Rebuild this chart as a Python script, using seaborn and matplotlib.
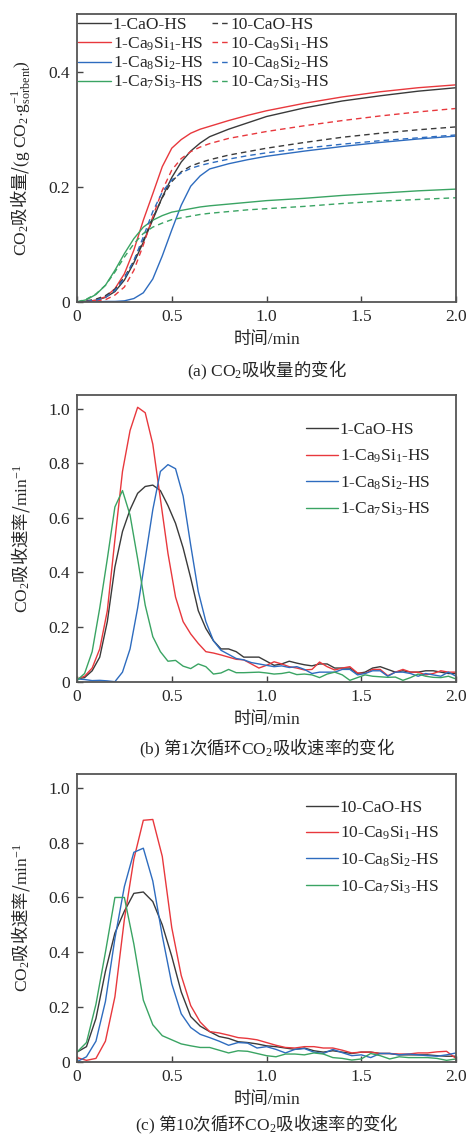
import numpy as np
import pandas as pd
import matplotlib
matplotlib.use("Agg")
import matplotlib.pyplot as plt
from matplotlib.ticker import FuncFormatter, FixedLocator
import seaborn as sns

# ---------------- data ----------------
# (a) cumulative CO2 uptake, g CO2 per g sorbent
time_uptake = [0.00, 0.05, 0.10, 0.15, 0.20, 0.25, 0.30, 0.35, 0.40, 0.45, 0.50,
               0.55, 0.60, 0.65, 0.70, 0.80, 0.90, 1.00, 1.20, 1.40, 1.60, 1.80, 2.00]
up_1_cao = [0, 0.001, 0.003, 0.008, 0.018, 0.038, 0.068, 0.104, 0.143, 0.182, 0.216,
            0.243, 0.262, 0.276, 0.287, 0.300, 0.311, 0.322, 0.337, 0.349, 0.358, 0.366, 0.372]
up_1_ca9 = [0, 0.001, 0.003, 0.009, 0.023, 0.049, 0.090, 0.142, 0.188, 0.235, 0.267,
            0.282, 0.293, 0.300, 0.305, 0.315, 0.324, 0.332, 0.345, 0.356, 0.365, 0.372, 0.377]
up_1_ca8 = [0, 0, 0, 0.001, 0.001, 0.002, 0.006, 0.016, 0.040, 0.080, 0.125,
            0.168, 0.201, 0.219, 0.231, 0.240, 0.247, 0.253, 0.262, 0.270, 0.277, 0.283, 0.288]
up_1_ca7 = [0, 0.004, 0.013, 0.029, 0.055, 0.084, 0.110, 0.130, 0.142, 0.150, 0.156,
            0.159, 0.162, 0.165, 0.167, 0.170, 0.173, 0.176, 0.180, 0.185, 0.189, 0.193, 0.196]
up_10_cao = [0, 0.002, 0.005, 0.011, 0.022, 0.043, 0.071, 0.107, 0.146, 0.181, 0.209,
             0.226, 0.236, 0.242, 0.247, 0.255, 0.261, 0.267, 0.277, 0.286, 0.293, 0.299, 0.304]
up_10_ca9 = [0, 0.001, 0.002, 0.004, 0.012, 0.026, 0.055, 0.099, 0.148, 0.194, 0.229,
             0.249, 0.261, 0.269, 0.275, 0.284, 0.290, 0.296, 0.306, 0.315, 0.323, 0.330, 0.336]
up_10_ca8 = [0, 0.001, 0.003, 0.008, 0.020, 0.041, 0.072, 0.113, 0.157, 0.191, 0.212,
             0.224, 0.232, 0.237, 0.241, 0.248, 0.254, 0.259, 0.267, 0.274, 0.280, 0.285, 0.290]
up_10_ca7 = [0, 0.005, 0.014, 0.029, 0.052, 0.078, 0.101, 0.119, 0.130, 0.137, 0.143,
             0.146, 0.149, 0.152, 0.154, 0.157, 0.160, 0.162, 0.166, 0.171, 0.175, 0.178, 0.181]

# (b) uptake rate, first cycle
time_rate_1 = [0.00, 0.04, 0.08, 0.12, 0.16, 0.20, 0.24, 0.28, 0.32, 0.36,
               0.40, 0.44, 0.48, 0.52, 0.56, 0.60, 0.64, 0.68, 0.72, 0.76,
               0.80, 0.84, 0.88, 0.92, 0.96, 1.00, 1.04, 1.08, 1.12, 1.16,
               1.20, 1.24, 1.28, 1.32, 1.36, 1.40, 1.44, 1.48, 1.52, 1.56,
               1.60, 1.64, 1.68, 1.72, 1.76, 1.80, 1.84, 1.88, 1.92, 1.96, 2.00]
rate_1_cao = [0.01, 0.015, 0.04, 0.09, 0.22, 0.42, 0.55, 0.63, 0.69, 0.715,
              0.72, 0.70, 0.645, 0.58, 0.49, 0.38, 0.26, 0.195, 0.15, 0.12,
              0.12, 0.11, 0.09, 0.09, 0.09, 0.075, 0.06, 0.065, 0.075, 0.068,
              0.062, 0.058, 0.065, 0.065, 0.05, 0.05, 0.05, 0.03, 0.035, 0.05,
              0.055, 0.045, 0.035, 0.04, 0.035, 0.035, 0.04, 0.04, 0.035, 0.03, 0.03]
rate_1_ca9 = [0.01, 0.02, 0.05, 0.12, 0.26, 0.52, 0.77, 0.92, 1.005, 0.985,
              0.87, 0.67, 0.47, 0.31, 0.22, 0.175, 0.14, 0.11, 0.105, 0.098,
              0.09, 0.082, 0.08, 0.065, 0.05, 0.06, 0.073, 0.065, 0.055, 0.05,
              0.043, 0.045, 0.072, 0.055, 0.043, 0.05, 0.055, 0.032, 0.03, 0.045,
              0.045, 0.022, 0.035, 0.045, 0.035, 0.035, 0.025, 0.03, 0.04, 0.035, 0.035]
rate_1_ca8 = [0.01, 0.008, 0.004, 0.005, 0.003, 0.0, 0.035, 0.12, 0.27, 0.45,
              0.63, 0.77, 0.795, 0.78, 0.68, 0.50, 0.33, 0.22, 0.15, 0.115,
              0.10, 0.085, 0.08, 0.07, 0.065, 0.06, 0.055, 0.058, 0.052, 0.055,
              0.045, 0.03, 0.035, 0.035, 0.035, 0.045, 0.045, 0.025, 0.03, 0.04,
              0.04, 0.02, 0.035, 0.035, 0.03, 0.02, 0.03, 0.025, 0.02, 0.035, 0.02]
rate_1_ca7 = [0.005, 0.03, 0.11, 0.27, 0.45, 0.64, 0.70, 0.61, 0.45, 0.28,
              0.165, 0.11, 0.075, 0.078, 0.057, 0.048, 0.065, 0.055, 0.028, 0.032,
              0.045, 0.033, 0.033, 0.034, 0.035, 0.032, 0.028, 0.03, 0.035, 0.026,
              0.028, 0.025, 0.015, 0.028, 0.035, 0.025, 0.005, 0.015, 0.025, 0.02,
              0.018, 0.016, 0.017, 0.005, 0.015, 0.028, 0.02, 0.016, 0.015, 0.02, 0.01]

# (c) uptake rate, tenth cycle
time_rate_10 = [0.00, 0.05, 0.10, 0.15, 0.20, 0.25, 0.30, 0.35, 0.40, 0.45,
                0.50, 0.55, 0.60, 0.65, 0.70, 0.75, 0.80, 0.85, 0.90, 0.95,
                1.00, 1.05, 1.10, 1.15, 1.20, 1.25, 1.30, 1.35, 1.40, 1.45,
                1.50, 1.55, 1.60, 1.65, 1.70, 1.75, 1.80, 1.85, 1.90, 1.95, 2.00]
rate_10_cao = [0.035, 0.055, 0.158, 0.33, 0.47, 0.55, 0.615, 0.62, 0.585, 0.50,
               0.385, 0.255, 0.165, 0.13, 0.11, 0.092, 0.085, 0.073, 0.07, 0.065,
               0.058, 0.055, 0.05, 0.045, 0.05, 0.04, 0.035, 0.04, 0.035, 0.03,
               0.035, 0.035, 0.03, 0.03, 0.025, 0.025, 0.025, 0.025, 0.022, 0.02, 0.02]
rate_10_ca9 = [0.015, 0.005, 0.012, 0.075, 0.237, 0.52, 0.74, 0.882, 0.885, 0.75,
               0.49, 0.315, 0.205, 0.145, 0.11, 0.105, 0.097, 0.088, 0.085, 0.08,
               0.07, 0.06, 0.052, 0.05, 0.055, 0.055, 0.05, 0.05, 0.042, 0.032,
               0.035, 0.035, 0.03, 0.03, 0.028, 0.028, 0.032, 0.032, 0.036, 0.038, 0.012]
rate_10_ca8 = [0.0, 0.018, 0.075, 0.22, 0.45, 0.64, 0.765, 0.78, 0.66, 0.46,
               0.285, 0.175, 0.125, 0.10, 0.088, 0.075, 0.06, 0.07, 0.068, 0.05,
               0.055, 0.045, 0.032, 0.045, 0.048, 0.035, 0.03, 0.045, 0.033, 0.022,
               0.025, 0.015, 0.03, 0.03, 0.025, 0.028, 0.025, 0.022, 0.02, 0.025, 0.032]
rate_10_ca7 = [0.035, 0.07, 0.21, 0.40, 0.60, 0.60, 0.43, 0.225, 0.135, 0.095,
               0.08, 0.065, 0.058, 0.052, 0.052, 0.042, 0.032, 0.04, 0.038, 0.03,
               0.022, 0.018, 0.028, 0.028, 0.025, 0.032, 0.028, 0.015, 0.012, 0.006,
               0.01, 0.03, 0.022, 0.01, 0.018, 0.015, 0.015, 0.015, 0.012, 0.005, 0.01]

samples = ["CaO", "Ca$_9$Si$_1$", "Ca$_8$Si$_2$", "Ca$_7$Si$_3$"]
palette = ["#3a3a3a", "#e8383d", "#2e6cbf", "#3aa463"]

# ---------------- style ----------------
sns.set_style("ticks")
plt.rcParams["font.family"] = ["Liberation Serif", "Noto Sans CJK SC"]
plt.rcParams["mathtext.fontset"] = "custom"
plt.rcParams["mathtext.rm"] = "Liberation Serif"
plt.rcParams["mathtext.it"] = "Liberation Serif:italic"
plt.rcParams["mathtext.bf"] = "Liberation Serif:bold"
plt.rcParams["axes.unicode_minus"] = True
FS = 12.5
# mixed Chinese / formula strings: plain parts drawn with the CJK face,
# formula parts (inside $...$) with the serif face
CJK = "Noto Sans CJK SC"

fig = plt.figure(figsize=(4.69, 11.35), dpi=100)
W, H = 469.0, 1135.0
left, right = 77 / W, 456 / W
boxes = [(14, 302), (395, 681.7), (774.3, 1061.7)]
axes = [fig.add_axes([left, 1 - b / H, right - left, (b - t) / H]) for t, b in boxes]


def num_fmt(v, _pos):
    return "0" if abs(v) < 1e-9 else f"{v:.1f}"


def style_axis(ax, ymax, yticks):
    ax.set_xlim(0, 2.0)
    ax.set_ylim(0, ymax)
    ax.xaxis.set_major_locator(FixedLocator([0, 0.5, 1.0, 1.5, 2.0]))
    ax.yaxis.set_major_locator(FixedLocator(yticks))
    ax.xaxis.set_major_formatter(FuncFormatter(num_fmt))
    ax.yaxis.set_major_formatter(FuncFormatter(num_fmt))
    ax.tick_params(direction="in", length=4, width=1.0, color="#444444",
                   labelsize=FS, pad=5, top=False, right=False)
    for sp in ax.spines.values():
        sp.set_color("#555555")
        sp.set_linewidth(1.3)
    ax.set_xlabel("时间/min", fontsize=FS, labelpad=5)
    ax.yaxis.set_label_coords(-0.118, 0.5)


def draw(ax, t, y, color, dashed, label):
    sns.lineplot(x=t, y=y, ax=ax, color=color, lw=1.0, sort=False,
                 errorbar=None, label=label, legend=False)
    line = ax.get_lines()[-1]
    if dashed:
        line.set_dashes((4.0, 2.9))
    return line


# (a) uptake
ax = axes[0]
first, tenth = [], []
for s, c, y in zip(samples, palette, [up_1_cao, up_1_ca9, up_1_ca8, up_1_ca7]):
    first.append(draw(ax, time_uptake, y, c, False, f"1-{s}-HS"))
for s, c, y in zip(samples, palette, [up_10_cao, up_10_ca9, up_10_ca8, up_10_ca7]):
    tenth.append(draw(ax, time_uptake, y, c, True, f"10-{s}-HS"))
style_axis(ax, 0.5, [0, 0.2, 0.4])
ax.set_ylabel(r"$\mathrm{CO_2}$吸收量/$\mathrm{(g\ CO_2{\cdot}g_{sorbent}^{-1})}$",
              fontsize=FS, family=CJK)
leg_common = dict(loc="upper left", frameon=False, fontsize=FS, handletextpad=0.1,
                  labelspacing=0.12, borderpad=0, borderaxespad=0)
leg1 = ax.legend(handles=first, labels=[h.get_label() for h in first],
                 bbox_to_anchor=(0.003, 0.99), handlelength=1.9, **leg_common)
ax.add_artist(leg1)
ax.legend(handles=tenth, labels=[h.get_label() for h in tenth],
          bbox_to_anchor=(0.356, 0.99), handlelength=0.95, **leg_common)

# (b) and (c) rates
rate_sets = [
    (axes[1], time_rate_1, [rate_1_cao, rate_1_ca9, rate_1_ca8, rate_1_ca7], "1", 0.905),
    (axes[2], time_rate_10, [rate_10_cao, rate_10_ca9, rate_10_ca8, rate_10_ca7], "10", 0.912),
]
for ax, t, ys, cyc, ytop in rate_sets:
    hs = [draw(ax, t, y, c, False, f"{cyc}-{s}-HS") for s, c, y in zip(samples, palette, ys)]
    style_axis(ax, 1.05, [0, 0.2, 0.4, 0.6, 0.8, 1.0])
    ax.set_ylabel(r"$\mathrm{CO_2}$吸收速率/$\mathrm{min^{-1}}$", fontsize=FS, family=CJK)
    ax.legend(handles=hs, labels=[h.get_label() for h in hs], loc="upper left",
              bbox_to_anchor=(0.604, ytop), frameon=False, fontsize=FS,
              handlelength=1.85, handletextpad=0.1, labelspacing=0.53,
              borderpad=0, borderaxespad=0)

# captions under each panel
cx = (left + right) / 2
fig.text(cx, 1 - 370 / H, r"$\mathrm{(a)\ CO_2}$吸收量的变化",
         ha="center", va="center", fontsize=FS, family=CJK)
fig.text(cx, 1 - 748 / H, r"$\mathrm{(b)}$ 第$\mathrm{1}$次循环$\mathrm{CO_2}$吸收速率的变化",
         ha="center", va="center", fontsize=FS, family=CJK)
fig.text(cx, 1 - 1124 / H, r"$\mathrm{(c)}$ 第$\mathrm{10}$次循环$\mathrm{CO_2}$吸收速率的变化",
         ha="center", va="center", fontsize=FS, family=CJK)

fig.savefig("out.png", dpi=100)
